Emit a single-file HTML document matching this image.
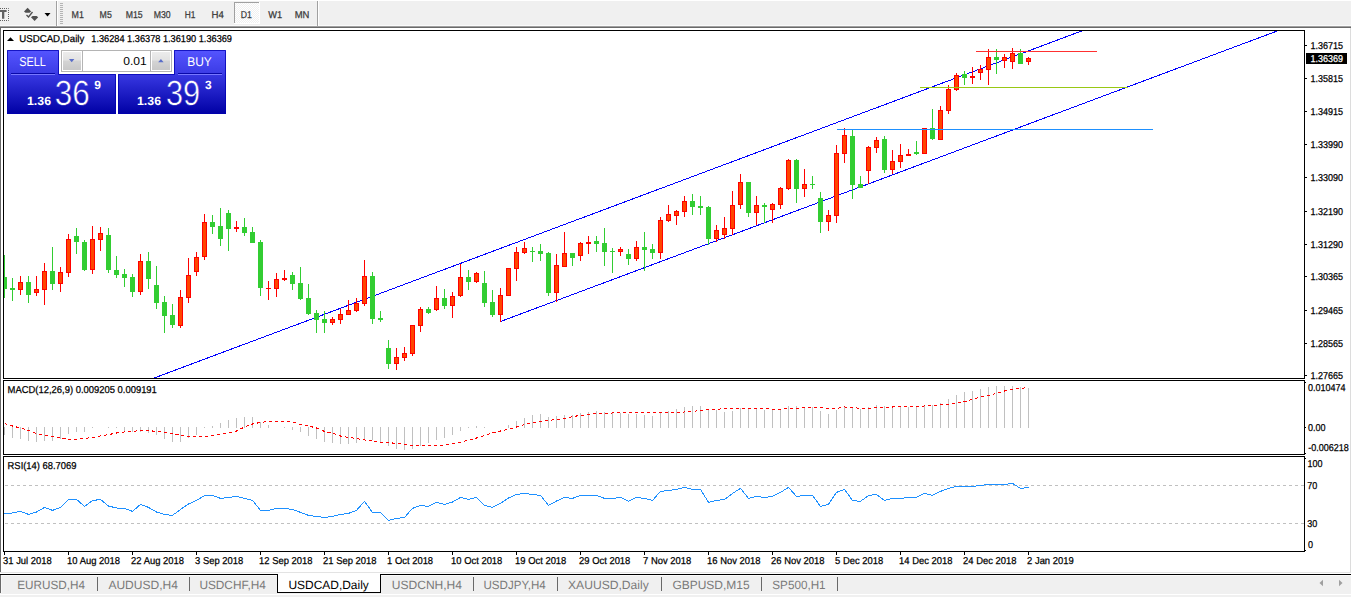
<!DOCTYPE html>
<html><head><meta charset="utf-8"><title>USDCAD,Daily</title>
<style>html,body{margin:0;padding:0;background:#fff;overflow:hidden}body{width:1351px;height:597px;font-family:"Liberation Sans",sans-serif}</style></head>
<body>
<svg width="1351" height="597" viewBox="0 0 1351 597" font-family="'Liberation Sans', sans-serif" text-rendering="geometricPrecision" style="display:block">
<defs><linearGradient id="gb" gradientUnits="userSpaceOnUse" x1="0" y1="50" x2="0" y2="114"><stop offset="0" stop-color="#5555ff"/><stop offset="0.36" stop-color="#3c3ce6"/><stop offset="0.4" stop-color="#3636e0"/><stop offset="1" stop-color="#0000a4"/></linearGradient><linearGradient id="gs" x1="0" y1="0" x2="0" y2="1"><stop offset="0" stop-color="#ececec"/><stop offset="0.45" stop-color="#e2e2e2"/><stop offset="0.5" stop-color="#d4d4d4"/><stop offset="1" stop-color="#c8c8c8"/></linearGradient><pattern id="dith" width="2" height="2" patternUnits="userSpaceOnUse"><rect width="2" height="2" fill="#f0f0f0"/><rect width="1" height="1" fill="#fff"/><rect x="1" y="1" width="1" height="1" fill="#fff"/></pattern></defs>
<rect x="0" y="0" width="1351" height="597" fill="#fff" />
<rect x="0" y="0" width="1351" height="26" fill="#f0f0f0" />
<rect x="0" y="0" width="1351" height="1" fill="#ffffff" />
<rect x="0" y="25" width="1351" height="1" fill="#fafafa" />
<rect x="0" y="26" width="1351" height="1" fill="#a0a0a0" />
<rect x="0" y="27" width="1351" height="1" fill="#696969" />
<rect x="1" y="28" width="1350" height="1" fill="#fff" />
<g fill="none" stroke="#606060" stroke-width="1" stroke-dasharray="1,1"><path d="M0 8.5H8.5V20.5H0"/></g>
<path d="M0 10h6.6v2H4.3V18.7H2V12H0z" fill="#606060"/>
<g fill="#505050"><path d="M24 11.6l3.6-3.8 3.6 3.8-1.6 1.2h-4z"/><path d="M31 17.2l3.6 3.8 3.6-3.8-1.6-1.2h-4z"/></g>
<path d="M26.5 15l2 2 4-5" fill="none" stroke="#505050" stroke-width="1.3"/>
<path d="M44.5 13h6l-3 3.5z" fill="#000"/>
<rect x="56" y="1" width="1" height="25" fill="#a0a0a0" />
<rect x="57" y="1" width="1" height="25" fill="#ffffff" />
<rect x="60" y="3" width="3" height="1" fill="#b4b4b4" />
<rect x="60" y="5" width="3" height="1" fill="#b4b4b4" />
<rect x="60" y="7" width="3" height="1" fill="#b4b4b4" />
<rect x="60" y="9" width="3" height="1" fill="#b4b4b4" />
<rect x="60" y="11" width="3" height="1" fill="#b4b4b4" />
<rect x="60" y="13" width="3" height="1" fill="#b4b4b4" />
<rect x="60" y="15" width="3" height="1" fill="#b4b4b4" />
<rect x="60" y="17" width="3" height="1" fill="#b4b4b4" />
<rect x="60" y="19" width="3" height="1" fill="#b4b4b4" />
<rect x="60" y="21" width="3" height="1" fill="#b4b4b4" />
<rect x="60" y="23" width="3" height="1" fill="#b4b4b4" />
<rect x="234" y="2" width="26" height="22" fill="url(#dith)" />
<rect x="234" y="2" width="26" height="1" fill="#a0a0a0" />
<rect x="234" y="2" width="1" height="22" fill="#a0a0a0" />
<rect x="234" y="23" width="26" height="1" fill="#fff" />
<rect x="259" y="2" width="1" height="22" fill="#fff" />
<rect x="317" y="1" width="1" height="25" fill="#a0a0a0" />
<rect x="318" y="1" width="1" height="25" fill="#ffffff" />
<text x="71.6" y="18" font-size="10" fill="#383838" stroke="#383838" stroke-width="0.25" textLength="12.3" lengthAdjust="spacingAndGlyphs">M1</text>
<text x="99.6" y="18" font-size="10" fill="#383838" stroke="#383838" stroke-width="0.25" textLength="12.2" lengthAdjust="spacingAndGlyphs">M5</text>
<text x="125.8" y="18" font-size="10" fill="#383838" stroke="#383838" stroke-width="0.25" textLength="16.9" lengthAdjust="spacingAndGlyphs">M15</text>
<text x="153.8" y="18" font-size="10" fill="#383838" stroke="#383838" stroke-width="0.25" textLength="16.9" lengthAdjust="spacingAndGlyphs">M30</text>
<text x="184.7" y="18" font-size="10" fill="#383838" stroke="#383838" stroke-width="0.25" textLength="10.7" lengthAdjust="spacingAndGlyphs">H1</text>
<text x="211.6" y="18" font-size="10" fill="#383838" stroke="#383838" stroke-width="0.25" textLength="12.3" lengthAdjust="spacingAndGlyphs">H4</text>
<text x="240.7" y="18" font-size="10" fill="#383838" stroke="#383838" stroke-width="0.25" textLength="11.1" lengthAdjust="spacingAndGlyphs">D1</text>
<text x="268.3" y="18" font-size="10" fill="#383838" stroke="#383838" stroke-width="0.25" textLength="13.9" lengthAdjust="spacingAndGlyphs">W1</text>
<text x="294.7" y="18" font-size="10" fill="#383838" stroke="#383838" stroke-width="0.25" textLength="14.7" lengthAdjust="spacingAndGlyphs">MN</text>
<rect x="0" y="27" width="1" height="546" fill="#696969" />
<rect x="1350" y="28" width="1" height="545" fill="#dcdcdc" />
<rect x="0" y="572" width="1351" height="1" fill="#e3e3e3" />
<clipPath id="cm"><rect x="4" y="31" width="1300" height="347"/></clipPath>
<g clip-path="url(#cm)">
<g stroke="#0000ff" stroke-width="1" shape-rendering="crispEdges">
<line x1="154.1" y1="378" x2="1081.6" y2="31"/>
<line x1="500.5" y1="321.5" x2="1277.2" y2="31"/>
</g>
<rect x="4" y="255" width="1" height="43" fill="#32cd32" />
<rect x="2" y="277" width="5" height="12" fill="#32cd32" />
<rect x="12" y="278" width="1" height="23" fill="#32cd32" />
<rect x="10" y="288" width="5" height="2" fill="#32cd32" />
<rect x="20" y="276" width="1" height="19" fill="#ff0000" />
<rect x="18" y="282" width="5" height="8" fill="#ff0000" />
<rect x="19" y="283" width="3" height="6" fill="#ff4500" />
<rect x="28" y="276" width="1" height="27" fill="#32cd32" />
<rect x="26" y="282" width="5" height="13" fill="#32cd32" />
<rect x="36" y="276" width="1" height="20" fill="#ff0000" />
<rect x="34" y="289" width="5" height="4" fill="#ff0000" />
<rect x="35" y="290" width="3" height="2" fill="#ff4500" />
<rect x="44" y="263" width="1" height="42" fill="#ff0000" />
<rect x="42" y="271" width="5" height="19" fill="#ff0000" />
<rect x="43" y="272" width="3" height="17" fill="#ff4500" />
<rect x="52" y="247" width="1" height="43" fill="#32cd32" />
<rect x="50" y="271" width="5" height="13" fill="#32cd32" />
<rect x="60" y="267" width="1" height="25" fill="#ff0000" />
<rect x="58" y="272" width="5" height="12" fill="#ff0000" />
<rect x="59" y="273" width="3" height="10" fill="#ff4500" />
<rect x="68" y="234" width="1" height="43" fill="#ff0000" />
<rect x="66" y="239" width="5" height="34" fill="#ff0000" />
<rect x="67" y="240" width="3" height="32" fill="#ff4500" />
<rect x="76" y="228" width="1" height="26" fill="#32cd32" />
<rect x="74" y="236" width="5" height="6" fill="#32cd32" />
<rect x="84" y="240" width="1" height="31" fill="#32cd32" />
<rect x="82" y="242" width="5" height="28" fill="#32cd32" />
<rect x="92" y="226" width="1" height="48" fill="#ff0000" />
<rect x="90" y="239" width="5" height="31" fill="#ff0000" />
<rect x="91" y="240" width="3" height="29" fill="#ff4500" />
<rect x="100" y="227" width="1" height="24" fill="#ff0000" />
<rect x="98" y="233" width="5" height="7" fill="#ff0000" />
<rect x="99" y="234" width="3" height="5" fill="#ff4500" />
<rect x="108" y="228" width="1" height="45" fill="#32cd32" />
<rect x="106" y="235" width="5" height="35" fill="#32cd32" />
<rect x="116" y="256" width="1" height="22" fill="#32cd32" />
<rect x="114" y="270" width="5" height="5" fill="#32cd32" />
<rect x="124" y="269" width="1" height="18" fill="#32cd32" />
<rect x="122" y="274" width="5" height="4" fill="#32cd32" />
<rect x="132" y="274" width="1" height="23" fill="#32cd32" />
<rect x="130" y="277" width="5" height="15" fill="#32cd32" />
<rect x="140" y="254" width="1" height="41" fill="#ff0000" />
<rect x="138" y="261" width="5" height="31" fill="#ff0000" />
<rect x="139" y="262" width="3" height="29" fill="#ff4500" />
<rect x="148" y="252" width="1" height="37" fill="#32cd32" />
<rect x="146" y="261" width="5" height="18" fill="#32cd32" />
<rect x="156" y="266" width="1" height="43" fill="#32cd32" />
<rect x="154" y="285" width="5" height="18" fill="#32cd32" />
<rect x="164" y="296" width="1" height="37" fill="#32cd32" />
<rect x="162" y="302" width="5" height="14" fill="#32cd32" />
<rect x="172" y="304" width="1" height="24" fill="#32cd32" />
<rect x="170" y="315" width="5" height="10" fill="#32cd32" />
<rect x="180" y="290" width="1" height="38" fill="#ff0000" />
<rect x="178" y="297" width="5" height="29" fill="#ff0000" />
<rect x="179" y="298" width="3" height="27" fill="#ff4500" />
<rect x="188" y="258" width="1" height="45" fill="#ff0000" />
<rect x="186" y="275" width="5" height="23" fill="#ff0000" />
<rect x="187" y="276" width="3" height="21" fill="#ff4500" />
<rect x="196" y="252" width="1" height="24" fill="#ff0000" />
<rect x="194" y="257" width="5" height="15" fill="#ff0000" />
<rect x="195" y="258" width="3" height="13" fill="#ff4500" />
<rect x="204" y="214" width="1" height="46" fill="#ff0000" />
<rect x="202" y="222" width="5" height="35" fill="#ff0000" />
<rect x="203" y="223" width="3" height="33" fill="#ff4500" />
<rect x="212" y="215" width="1" height="19" fill="#32cd32" />
<rect x="210" y="222" width="5" height="5" fill="#32cd32" />
<rect x="220" y="208" width="1" height="38" fill="#32cd32" />
<rect x="218" y="226" width="5" height="13" fill="#32cd32" />
<rect x="228" y="210" width="1" height="41" fill="#32cd32" />
<rect x="226" y="213" width="5" height="16" fill="#32cd32" />
<rect x="236" y="221" width="1" height="11" fill="#ff0000" />
<rect x="234" y="227" width="5" height="2" fill="#ff0000" />
<rect x="244" y="218" width="1" height="18" fill="#32cd32" />
<rect x="242" y="227" width="5" height="6" fill="#32cd32" />
<rect x="252" y="227" width="1" height="16" fill="#32cd32" />
<rect x="250" y="232" width="5" height="11" fill="#32cd32" />
<rect x="260" y="240" width="1" height="56" fill="#32cd32" />
<rect x="258" y="242" width="5" height="46" fill="#32cd32" />
<rect x="268" y="281" width="1" height="19" fill="#ff0000" />
<rect x="266" y="288" width="5" height="1" fill="#ff0000" />
<rect x="276" y="273" width="1" height="24" fill="#ff0000" />
<rect x="274" y="279" width="5" height="10" fill="#ff0000" />
<rect x="275" y="280" width="3" height="8" fill="#ff4500" />
<rect x="284" y="270" width="1" height="11" fill="#ff0000" />
<rect x="282" y="278" width="5" height="2" fill="#ff0000" />
<rect x="292" y="272" width="1" height="18" fill="#32cd32" />
<rect x="290" y="275" width="5" height="9" fill="#32cd32" />
<rect x="300" y="267" width="1" height="33" fill="#32cd32" />
<rect x="298" y="283" width="5" height="16" fill="#32cd32" />
<rect x="308" y="284" width="1" height="31" fill="#32cd32" />
<rect x="306" y="298" width="5" height="16" fill="#32cd32" />
<rect x="316" y="310" width="1" height="23" fill="#32cd32" />
<rect x="314" y="313" width="5" height="7" fill="#32cd32" />
<rect x="324" y="311" width="1" height="22" fill="#32cd32" />
<rect x="322" y="319" width="5" height="4" fill="#32cd32" />
<rect x="332" y="317" width="1" height="8" fill="#ff0000" />
<rect x="330" y="319" width="5" height="4" fill="#ff0000" />
<rect x="331" y="320" width="3" height="2" fill="#ff4500" />
<rect x="340" y="309" width="1" height="15" fill="#ff0000" />
<rect x="338" y="314" width="5" height="6" fill="#ff0000" />
<rect x="339" y="315" width="3" height="4" fill="#ff4500" />
<rect x="348" y="300" width="1" height="15" fill="#ff0000" />
<rect x="346" y="310" width="5" height="5" fill="#ff0000" />
<rect x="347" y="311" width="3" height="3" fill="#ff4500" />
<rect x="356" y="298" width="1" height="14" fill="#ff0000" />
<rect x="354" y="303" width="5" height="8" fill="#ff0000" />
<rect x="355" y="304" width="3" height="6" fill="#ff4500" />
<rect x="364" y="260" width="1" height="46" fill="#ff0000" />
<rect x="362" y="276" width="5" height="28" fill="#ff0000" />
<rect x="363" y="277" width="3" height="26" fill="#ff4500" />
<rect x="372" y="272" width="1" height="52" fill="#32cd32" />
<rect x="370" y="276" width="5" height="43" fill="#32cd32" />
<rect x="380" y="311" width="1" height="11" fill="#32cd32" />
<rect x="378" y="318" width="5" height="2" fill="#32cd32" />
<rect x="388" y="340" width="1" height="29" fill="#32cd32" />
<rect x="386" y="348" width="5" height="16" fill="#32cd32" />
<rect x="396" y="348" width="1" height="22" fill="#ff0000" />
<rect x="394" y="357" width="5" height="7" fill="#ff0000" />
<rect x="395" y="358" width="3" height="5" fill="#ff4500" />
<rect x="404" y="347" width="1" height="14" fill="#ff0000" />
<rect x="402" y="353" width="5" height="5" fill="#ff0000" />
<rect x="403" y="354" width="3" height="3" fill="#ff4500" />
<rect x="412" y="325" width="1" height="31" fill="#ff0000" />
<rect x="410" y="325" width="5" height="29" fill="#ff0000" />
<rect x="411" y="326" width="3" height="27" fill="#ff4500" />
<rect x="420" y="307" width="1" height="25" fill="#ff0000" />
<rect x="418" y="309" width="5" height="17" fill="#ff0000" />
<rect x="419" y="310" width="3" height="15" fill="#ff4500" />
<rect x="428" y="307" width="1" height="7" fill="#32cd32" />
<rect x="426" y="309" width="5" height="4" fill="#32cd32" />
<rect x="436" y="286" width="1" height="25" fill="#ff0000" />
<rect x="434" y="298" width="5" height="12" fill="#ff0000" />
<rect x="435" y="299" width="3" height="10" fill="#ff4500" />
<rect x="444" y="289" width="1" height="20" fill="#32cd32" />
<rect x="442" y="298" width="5" height="8" fill="#32cd32" />
<rect x="452" y="292" width="1" height="26" fill="#ff0000" />
<rect x="450" y="296" width="5" height="10" fill="#ff0000" />
<rect x="451" y="297" width="3" height="8" fill="#ff4500" />
<rect x="460" y="264" width="1" height="33" fill="#ff0000" />
<rect x="458" y="277" width="5" height="19" fill="#ff0000" />
<rect x="459" y="278" width="3" height="17" fill="#ff4500" />
<rect x="468" y="270" width="1" height="20" fill="#32cd32" />
<rect x="466" y="277" width="5" height="5" fill="#32cd32" />
<rect x="476" y="272" width="1" height="11" fill="#ff0000" />
<rect x="474" y="273" width="5" height="9" fill="#ff0000" />
<rect x="475" y="274" width="3" height="7" fill="#ff4500" />
<rect x="484" y="271" width="1" height="36" fill="#32cd32" />
<rect x="482" y="283" width="5" height="20" fill="#32cd32" />
<rect x="492" y="290" width="1" height="27" fill="#32cd32" />
<rect x="490" y="302" width="5" height="13" fill="#32cd32" />
<rect x="500" y="288" width="1" height="34" fill="#ff0000" />
<rect x="498" y="295" width="5" height="20" fill="#ff0000" />
<rect x="499" y="296" width="3" height="18" fill="#ff4500" />
<rect x="508" y="268" width="1" height="28" fill="#ff0000" />
<rect x="506" y="268" width="5" height="28" fill="#ff0000" />
<rect x="507" y="269" width="3" height="26" fill="#ff4500" />
<rect x="516" y="247" width="1" height="34" fill="#ff0000" />
<rect x="514" y="252" width="5" height="17" fill="#ff0000" />
<rect x="515" y="253" width="3" height="15" fill="#ff4500" />
<rect x="524" y="242" width="1" height="12" fill="#ff0000" />
<rect x="522" y="248" width="5" height="5" fill="#ff0000" />
<rect x="523" y="249" width="3" height="3" fill="#ff4500" />
<rect x="532" y="247" width="1" height="15" fill="#32cd32" />
<rect x="530" y="251" width="5" height="1" fill="#32cd32" />
<rect x="540" y="244" width="1" height="17" fill="#32cd32" />
<rect x="538" y="251" width="5" height="3" fill="#32cd32" />
<rect x="548" y="252" width="1" height="44" fill="#32cd32" />
<rect x="546" y="253" width="5" height="40" fill="#32cd32" />
<rect x="556" y="254" width="1" height="48" fill="#ff0000" />
<rect x="554" y="265" width="5" height="28" fill="#ff0000" />
<rect x="555" y="266" width="3" height="26" fill="#ff4500" />
<rect x="564" y="232" width="1" height="35" fill="#ff0000" />
<rect x="562" y="253" width="5" height="14" fill="#ff0000" />
<rect x="563" y="254" width="3" height="12" fill="#ff4500" />
<rect x="572" y="253" width="1" height="13" fill="#32cd32" />
<rect x="570" y="253" width="5" height="5" fill="#32cd32" />
<rect x="580" y="242" width="1" height="19" fill="#ff0000" />
<rect x="578" y="243" width="5" height="13" fill="#ff0000" />
<rect x="579" y="244" width="3" height="11" fill="#ff4500" />
<rect x="588" y="236" width="1" height="18" fill="#ff0000" />
<rect x="586" y="242" width="5" height="2" fill="#ff0000" />
<rect x="596" y="236" width="1" height="16" fill="#32cd32" />
<rect x="594" y="241" width="5" height="3" fill="#32cd32" />
<rect x="604" y="228" width="1" height="38" fill="#32cd32" />
<rect x="602" y="243" width="5" height="9" fill="#32cd32" />
<rect x="612" y="248" width="1" height="25" fill="#32cd32" />
<rect x="610" y="251" width="5" height="1" fill="#32cd32" />
<rect x="620" y="247" width="1" height="9" fill="#ff0000" />
<rect x="618" y="249" width="5" height="3" fill="#ff0000" />
<rect x="619" y="250" width="3" height="1" fill="#ff4500" />
<rect x="628" y="249" width="1" height="16" fill="#32cd32" />
<rect x="626" y="254" width="5" height="5" fill="#32cd32" />
<rect x="636" y="241" width="1" height="20" fill="#ff0000" />
<rect x="634" y="247" width="5" height="12" fill="#ff0000" />
<rect x="635" y="248" width="3" height="10" fill="#ff4500" />
<rect x="644" y="232" width="1" height="39" fill="#32cd32" />
<rect x="642" y="247" width="5" height="3" fill="#32cd32" />
<rect x="652" y="244" width="1" height="15" fill="#32cd32" />
<rect x="650" y="249" width="5" height="4" fill="#32cd32" />
<rect x="660" y="217" width="1" height="42" fill="#ff0000" />
<rect x="658" y="220" width="5" height="33" fill="#ff0000" />
<rect x="659" y="221" width="3" height="31" fill="#ff4500" />
<rect x="668" y="205" width="1" height="17" fill="#ff0000" />
<rect x="666" y="214" width="5" height="7" fill="#ff0000" />
<rect x="667" y="215" width="3" height="5" fill="#ff4500" />
<rect x="676" y="210" width="1" height="15" fill="#ff0000" />
<rect x="674" y="211" width="5" height="5" fill="#ff0000" />
<rect x="675" y="212" width="3" height="3" fill="#ff4500" />
<rect x="684" y="196" width="1" height="21" fill="#ff0000" />
<rect x="682" y="201" width="5" height="11" fill="#ff0000" />
<rect x="683" y="202" width="3" height="9" fill="#ff4500" />
<rect x="692" y="194" width="1" height="21" fill="#32cd32" />
<rect x="690" y="201" width="5" height="6" fill="#32cd32" />
<rect x="700" y="196" width="1" height="19" fill="#32cd32" />
<rect x="698" y="206" width="5" height="2" fill="#32cd32" />
<rect x="708" y="206" width="1" height="39" fill="#32cd32" />
<rect x="706" y="207" width="5" height="32" fill="#32cd32" />
<rect x="716" y="225" width="1" height="17" fill="#ff0000" />
<rect x="714" y="230" width="5" height="9" fill="#ff0000" />
<rect x="715" y="231" width="3" height="7" fill="#ff4500" />
<rect x="724" y="217" width="1" height="22" fill="#ff0000" />
<rect x="722" y="228" width="5" height="7" fill="#ff0000" />
<rect x="723" y="229" width="3" height="5" fill="#ff4500" />
<rect x="732" y="191" width="1" height="44" fill="#ff0000" />
<rect x="730" y="205" width="5" height="24" fill="#ff0000" />
<rect x="731" y="206" width="3" height="22" fill="#ff4500" />
<rect x="740" y="174" width="1" height="35" fill="#ff0000" />
<rect x="738" y="182" width="5" height="23" fill="#ff0000" />
<rect x="739" y="183" width="3" height="21" fill="#ff4500" />
<rect x="748" y="182" width="1" height="35" fill="#32cd32" />
<rect x="746" y="182" width="5" height="31" fill="#32cd32" />
<rect x="756" y="196" width="1" height="29" fill="#ff0000" />
<rect x="754" y="205" width="5" height="8" fill="#ff0000" />
<rect x="755" y="206" width="3" height="6" fill="#ff4500" />
<rect x="764" y="203" width="1" height="20" fill="#32cd32" />
<rect x="762" y="205" width="5" height="2" fill="#32cd32" />
<rect x="772" y="203" width="1" height="20" fill="#ff0000" />
<rect x="770" y="204" width="5" height="6" fill="#ff0000" />
<rect x="771" y="205" width="3" height="4" fill="#ff4500" />
<rect x="780" y="187" width="1" height="22" fill="#ff0000" />
<rect x="778" y="188" width="5" height="17" fill="#ff0000" />
<rect x="779" y="189" width="3" height="15" fill="#ff4500" />
<rect x="788" y="159" width="1" height="31" fill="#ff0000" />
<rect x="786" y="160" width="5" height="29" fill="#ff0000" />
<rect x="787" y="161" width="3" height="27" fill="#ff4500" />
<rect x="796" y="159" width="1" height="44" fill="#32cd32" />
<rect x="794" y="160" width="5" height="29" fill="#32cd32" />
<rect x="804" y="169" width="1" height="28" fill="#ff0000" />
<rect x="802" y="184" width="5" height="5" fill="#ff0000" />
<rect x="803" y="185" width="3" height="3" fill="#ff4500" />
<rect x="812" y="176" width="1" height="13" fill="#32cd32" />
<rect x="810" y="184" width="5" height="1" fill="#32cd32" />
<rect x="820" y="192" width="1" height="41" fill="#32cd32" />
<rect x="818" y="198" width="5" height="24" fill="#32cd32" />
<rect x="828" y="210" width="1" height="21" fill="#ff0000" />
<rect x="826" y="215" width="5" height="7" fill="#ff0000" />
<rect x="827" y="216" width="3" height="5" fill="#ff4500" />
<rect x="836" y="145" width="1" height="78" fill="#ff0000" />
<rect x="834" y="153" width="5" height="63" fill="#ff0000" />
<rect x="835" y="154" width="3" height="61" fill="#ff4500" />
<rect x="844" y="128" width="1" height="35" fill="#ff0000" />
<rect x="842" y="135" width="5" height="19" fill="#ff0000" />
<rect x="843" y="136" width="3" height="17" fill="#ff4500" />
<rect x="852" y="130" width="1" height="69" fill="#32cd32" />
<rect x="850" y="136" width="5" height="49" fill="#32cd32" />
<rect x="860" y="176" width="1" height="12" fill="#32cd32" />
<rect x="858" y="184" width="5" height="4" fill="#32cd32" />
<rect x="868" y="146" width="1" height="38" fill="#ff0000" />
<rect x="866" y="147" width="5" height="24" fill="#ff0000" />
<rect x="867" y="148" width="3" height="22" fill="#ff4500" />
<rect x="876" y="137" width="1" height="16" fill="#ff0000" />
<rect x="874" y="140" width="5" height="8" fill="#ff0000" />
<rect x="875" y="141" width="3" height="6" fill="#ff4500" />
<rect x="884" y="136" width="1" height="37" fill="#32cd32" />
<rect x="882" y="139" width="5" height="31" fill="#32cd32" />
<rect x="892" y="150" width="1" height="24" fill="#ff0000" />
<rect x="890" y="161" width="5" height="9" fill="#ff0000" />
<rect x="891" y="162" width="3" height="7" fill="#ff4500" />
<rect x="900" y="144" width="1" height="24" fill="#ff0000" />
<rect x="898" y="155" width="5" height="7" fill="#ff0000" />
<rect x="899" y="156" width="3" height="5" fill="#ff4500" />
<rect x="908" y="149" width="1" height="7" fill="#ff0000" />
<rect x="906" y="154" width="5" height="2" fill="#ff0000" />
<rect x="916" y="141" width="1" height="14" fill="#32cd32" />
<rect x="914" y="152" width="5" height="2" fill="#32cd32" />
<rect x="924" y="128" width="1" height="26" fill="#ff0000" />
<rect x="922" y="128" width="5" height="26" fill="#ff0000" />
<rect x="923" y="129" width="3" height="24" fill="#ff4500" />
<rect x="932" y="109" width="1" height="31" fill="#32cd32" />
<rect x="930" y="128" width="5" height="11" fill="#32cd32" />
<rect x="940" y="106" width="1" height="34" fill="#ff0000" />
<rect x="938" y="110" width="5" height="30" fill="#ff0000" />
<rect x="939" y="111" width="3" height="28" fill="#ff4500" />
<rect x="948" y="85" width="1" height="29" fill="#ff0000" />
<rect x="946" y="89" width="5" height="22" fill="#ff0000" />
<rect x="947" y="90" width="3" height="20" fill="#ff4500" />
<rect x="956" y="73" width="1" height="18" fill="#ff0000" />
<rect x="954" y="75" width="5" height="15" fill="#ff0000" />
<rect x="955" y="76" width="3" height="13" fill="#ff4500" />
<rect x="964" y="71" width="1" height="14" fill="#32cd32" />
<rect x="962" y="74" width="5" height="4" fill="#32cd32" />
<rect x="972" y="67" width="1" height="17" fill="#ff0000" />
<rect x="970" y="76" width="5" height="2" fill="#ff0000" />
<rect x="980" y="65" width="1" height="15" fill="#ff0000" />
<rect x="978" y="69" width="5" height="4" fill="#ff0000" />
<rect x="979" y="70" width="3" height="2" fill="#ff4500" />
<rect x="988" y="49" width="1" height="36" fill="#ff0000" />
<rect x="986" y="57" width="5" height="13" fill="#ff0000" />
<rect x="987" y="58" width="3" height="11" fill="#ff4500" />
<rect x="996" y="49" width="1" height="25" fill="#32cd32" />
<rect x="994" y="57" width="5" height="3" fill="#32cd32" />
<rect x="1004" y="54" width="1" height="14" fill="#ff0000" />
<rect x="1002" y="57" width="5" height="4" fill="#ff0000" />
<rect x="1003" y="58" width="3" height="2" fill="#ff4500" />
<rect x="1012" y="48" width="1" height="21" fill="#ff0000" />
<rect x="1010" y="53" width="5" height="9" fill="#ff0000" />
<rect x="1011" y="54" width="3" height="7" fill="#ff4500" />
<rect x="1020" y="49" width="1" height="15" fill="#32cd32" />
<rect x="1018" y="53" width="5" height="11" fill="#32cd32" />
<rect x="1028" y="57" width="1" height="8" fill="#ff0000" />
<rect x="1026" y="58" width="5" height="4" fill="#ff0000" />
<rect x="1027" y="59" width="3" height="2" fill="#ff4500" />
<rect x="976" y="51" width="121" height="1" fill="#ff3030" />
<rect x="920" y="87" width="208" height="1" fill="#98c814" />
<rect x="837" y="129" width="316" height="1" fill="#1e90ff" />
</g>
<rect x="3" y="30" width="1302" height="1" fill="#000" />
<rect x="3" y="378" width="1302" height="1" fill="#000" />
<rect x="3" y="30" width="1" height="349" fill="#000" />
<rect x="1304" y="30" width="1" height="349" fill="#000" />
<rect x="3" y="380" width="1302" height="1" fill="#000" />
<rect x="3" y="454" width="1302" height="1" fill="#000" />
<rect x="3" y="380" width="1" height="75" fill="#000" />
<rect x="1304" y="380" width="1" height="75" fill="#000" />
<rect x="4" y="427" width="1" height="8" fill="#c0c0c0" />
<rect x="12" y="427" width="1" height="11" fill="#c0c0c0" />
<rect x="20" y="427" width="1" height="12" fill="#c0c0c0" />
<rect x="28" y="427" width="1" height="14" fill="#c0c0c0" />
<rect x="36" y="427" width="1" height="15" fill="#c0c0c0" />
<rect x="44" y="427" width="1" height="14" fill="#c0c0c0" />
<rect x="52" y="427" width="1" height="14" fill="#c0c0c0" />
<rect x="60" y="427" width="1" height="12" fill="#c0c0c0" />
<rect x="68" y="427" width="1" height="7" fill="#c0c0c0" />
<rect x="76" y="427" width="1" height="5" fill="#c0c0c0" />
<rect x="84" y="427" width="1" height="5" fill="#c0c0c0" />
<rect x="92" y="427" width="1" height="1" fill="#c0c0c0" />
<rect x="108" y="427" width="1" height="1" fill="#c0c0c0" />
<rect x="116" y="427" width="1" height="1" fill="#c0c0c0" />
<rect x="124" y="427" width="1" height="4" fill="#c0c0c0" />
<rect x="132" y="427" width="1" height="5" fill="#c0c0c0" />
<rect x="140" y="427" width="1" height="5" fill="#c0c0c0" />
<rect x="148" y="427" width="1" height="6" fill="#c0c0c0" />
<rect x="156" y="427" width="1" height="8" fill="#c0c0c0" />
<rect x="164" y="427" width="1" height="12" fill="#c0c0c0" />
<rect x="172" y="427" width="1" height="15" fill="#c0c0c0" />
<rect x="180" y="427" width="1" height="15" fill="#c0c0c0" />
<rect x="188" y="427" width="1" height="11" fill="#c0c0c0" />
<rect x="196" y="427" width="1" height="8" fill="#c0c0c0" />
<rect x="204" y="427" width="1" height="1" fill="#c0c0c0" />
<rect x="212" y="426" width="1" height="2" fill="#c0c0c0" />
<rect x="220" y="423" width="1" height="5" fill="#c0c0c0" />
<rect x="228" y="420" width="1" height="8" fill="#c0c0c0" />
<rect x="236" y="418" width="1" height="10" fill="#c0c0c0" />
<rect x="244" y="417" width="1" height="11" fill="#c0c0c0" />
<rect x="252" y="417" width="1" height="11" fill="#c0c0c0" />
<rect x="260" y="422" width="1" height="6" fill="#c0c0c0" />
<rect x="268" y="425" width="1" height="3" fill="#c0c0c0" />
<rect x="284" y="427" width="1" height="1" fill="#c0c0c0" />
<rect x="292" y="427" width="1" height="3" fill="#c0c0c0" />
<rect x="300" y="427" width="1" height="5" fill="#c0c0c0" />
<rect x="308" y="427" width="1" height="9" fill="#c0c0c0" />
<rect x="316" y="427" width="1" height="12" fill="#c0c0c0" />
<rect x="324" y="427" width="1" height="15" fill="#c0c0c0" />
<rect x="332" y="427" width="1" height="16" fill="#c0c0c0" />
<rect x="340" y="427" width="1" height="17" fill="#c0c0c0" />
<rect x="348" y="427" width="1" height="17" fill="#c0c0c0" />
<rect x="356" y="427" width="1" height="16" fill="#c0c0c0" />
<rect x="364" y="427" width="1" height="12" fill="#c0c0c0" />
<rect x="372" y="427" width="1" height="13" fill="#c0c0c0" />
<rect x="380" y="427" width="1" height="15" fill="#c0c0c0" />
<rect x="388" y="427" width="1" height="19" fill="#c0c0c0" />
<rect x="396" y="427" width="1" height="22" fill="#c0c0c0" />
<rect x="404" y="427" width="1" height="23" fill="#c0c0c0" />
<rect x="412" y="427" width="1" height="22" fill="#c0c0c0" />
<rect x="420" y="427" width="1" height="19" fill="#c0c0c0" />
<rect x="428" y="427" width="1" height="16" fill="#c0c0c0" />
<rect x="436" y="427" width="1" height="13" fill="#c0c0c0" />
<rect x="444" y="427" width="1" height="11" fill="#c0c0c0" />
<rect x="452" y="427" width="1" height="8" fill="#c0c0c0" />
<rect x="460" y="427" width="1" height="4" fill="#c0c0c0" />
<rect x="468" y="427" width="1" height="1" fill="#c0c0c0" />
<rect x="476" y="426" width="1" height="2" fill="#c0c0c0" />
<rect x="484" y="427" width="1" height="1" fill="#c0c0c0" />
<rect x="508" y="425" width="1" height="3" fill="#c0c0c0" />
<rect x="516" y="421" width="1" height="7" fill="#c0c0c0" />
<rect x="524" y="418" width="1" height="10" fill="#c0c0c0" />
<rect x="532" y="415" width="1" height="13" fill="#c0c0c0" />
<rect x="540" y="414" width="1" height="14" fill="#c0c0c0" />
<rect x="548" y="417" width="1" height="11" fill="#c0c0c0" />
<rect x="556" y="416" width="1" height="12" fill="#c0c0c0" />
<rect x="564" y="415" width="1" height="13" fill="#c0c0c0" />
<rect x="572" y="415" width="1" height="13" fill="#c0c0c0" />
<rect x="580" y="413" width="1" height="15" fill="#c0c0c0" />
<rect x="588" y="412" width="1" height="16" fill="#c0c0c0" />
<rect x="596" y="411" width="1" height="17" fill="#c0c0c0" />
<rect x="604" y="412" width="1" height="16" fill="#c0c0c0" />
<rect x="612" y="413" width="1" height="15" fill="#c0c0c0" />
<rect x="620" y="413" width="1" height="15" fill="#c0c0c0" />
<rect x="628" y="414" width="1" height="14" fill="#c0c0c0" />
<rect x="636" y="414" width="1" height="14" fill="#c0c0c0" />
<rect x="644" y="415" width="1" height="13" fill="#c0c0c0" />
<rect x="652" y="416" width="1" height="12" fill="#c0c0c0" />
<rect x="660" y="413" width="1" height="15" fill="#c0c0c0" />
<rect x="668" y="411" width="1" height="17" fill="#c0c0c0" />
<rect x="676" y="409" width="1" height="19" fill="#c0c0c0" />
<rect x="684" y="407" width="1" height="21" fill="#c0c0c0" />
<rect x="692" y="406" width="1" height="22" fill="#c0c0c0" />
<rect x="700" y="406" width="1" height="22" fill="#c0c0c0" />
<rect x="708" y="409" width="1" height="19" fill="#c0c0c0" />
<rect x="716" y="410" width="1" height="18" fill="#c0c0c0" />
<rect x="724" y="412" width="1" height="16" fill="#c0c0c0" />
<rect x="732" y="411" width="1" height="17" fill="#c0c0c0" />
<rect x="740" y="408" width="1" height="20" fill="#c0c0c0" />
<rect x="748" y="408" width="1" height="20" fill="#c0c0c0" />
<rect x="756" y="409" width="1" height="19" fill="#c0c0c0" />
<rect x="764" y="410" width="1" height="18" fill="#c0c0c0" />
<rect x="772" y="410" width="1" height="18" fill="#c0c0c0" />
<rect x="780" y="409" width="1" height="19" fill="#c0c0c0" />
<rect x="788" y="406" width="1" height="22" fill="#c0c0c0" />
<rect x="796" y="406" width="1" height="22" fill="#c0c0c0" />
<rect x="804" y="407" width="1" height="21" fill="#c0c0c0" />
<rect x="812" y="407" width="1" height="21" fill="#c0c0c0" />
<rect x="820" y="411" width="1" height="17" fill="#c0c0c0" />
<rect x="828" y="414" width="1" height="14" fill="#c0c0c0" />
<rect x="836" y="410" width="1" height="18" fill="#c0c0c0" />
<rect x="844" y="406" width="1" height="22" fill="#c0c0c0" />
<rect x="852" y="407" width="1" height="21" fill="#c0c0c0" />
<rect x="860" y="409" width="1" height="19" fill="#c0c0c0" />
<rect x="868" y="407" width="1" height="21" fill="#c0c0c0" />
<rect x="876" y="405" width="1" height="23" fill="#c0c0c0" />
<rect x="884" y="406" width="1" height="22" fill="#c0c0c0" />
<rect x="892" y="407" width="1" height="21" fill="#c0c0c0" />
<rect x="900" y="406" width="1" height="22" fill="#c0c0c0" />
<rect x="908" y="407" width="1" height="21" fill="#c0c0c0" />
<rect x="916" y="407" width="1" height="21" fill="#c0c0c0" />
<rect x="924" y="405" width="1" height="23" fill="#c0c0c0" />
<rect x="932" y="405" width="1" height="23" fill="#c0c0c0" />
<rect x="940" y="403" width="1" height="25" fill="#c0c0c0" />
<rect x="948" y="399" width="1" height="29" fill="#c0c0c0" />
<rect x="956" y="395" width="1" height="33" fill="#c0c0c0" />
<rect x="964" y="392" width="1" height="36" fill="#c0c0c0" />
<rect x="972" y="391" width="1" height="37" fill="#c0c0c0" />
<rect x="980" y="389" width="1" height="39" fill="#c0c0c0" />
<rect x="988" y="387" width="1" height="41" fill="#c0c0c0" />
<rect x="996" y="386" width="1" height="42" fill="#c0c0c0" />
<rect x="1004" y="386" width="1" height="42" fill="#c0c0c0" />
<rect x="1012" y="386" width="1" height="42" fill="#c0c0c0" />
<rect x="1020" y="387" width="1" height="41" fill="#c0c0c0" />
<rect x="1028" y="388" width="1" height="40" fill="#c0c0c0" />
<polyline points="4.5,423.6 12.5,426.0 20.5,428.0 28.5,430.6 36.5,433.4 44.5,435.4 52.5,436.6 60.5,438.0 68.5,439.4 76.5,439.4 84.5,438.6 92.5,437.4 100.5,436.0 108.5,434.6 116.5,433.0 124.5,432.0 132.5,431.4 140.5,430.6 148.5,430.6 156.5,431.4 164.5,432.6 172.5,433.4 180.5,435.0 188.5,436.4 196.5,437.0 204.5,436.4 212.5,435.4 220.5,434.0 228.5,433.0 236.5,431.0 244.5,427.0 252.5,424.0 260.5,422.4 268.5,421.4 276.5,421.4 284.5,421.4 292.5,422.0 300.5,424.4 308.5,426.0 316.5,428.0 324.5,431.4 332.5,433.0 340.5,436.0 348.5,437.4 356.5,438.6 364.5,440.0 372.5,441.0 380.5,442.4 388.5,442.6 396.5,443.4 404.5,444.6 412.5,445.4 420.5,445.4 428.5,445.4 436.5,445.4 444.5,445.0 452.5,444.0 460.5,442.6 468.5,440.0 476.5,438.0 484.5,435.4 492.5,433.0 500.5,431.0 508.5,429.4 516.5,427.0 524.5,424.4 532.5,423.0 540.5,421.4 548.5,420.6 556.5,419.4 564.5,418.4 572.5,416.6 580.5,415.4 588.5,414.4 596.5,413.4 604.5,413.4 612.5,413.0 620.5,412.4 628.5,412.4 636.5,412.4 644.5,412.4 652.5,412.4 660.5,412.4 668.5,412.4 676.5,412.4 684.5,412.0 692.5,411.4 700.5,410.4 708.5,409.6 716.5,409.4 724.5,408.6 732.5,408.6 740.5,408.6 748.5,408.6 756.5,408.6 764.5,408.6 772.5,409.4 780.5,409.4 788.5,408.6 796.5,408.4 804.5,407.4 812.5,407.4 820.5,407.4 828.5,408.4 836.5,408.4 844.5,407.0 852.5,407.4 860.5,408.6 868.5,408.4 876.5,407.4 884.5,407.0 892.5,407.0 900.5,406.4 908.5,406.4 916.5,406.4 924.5,406.0 932.5,405.4 940.5,405.0 948.5,404.4 956.5,403.0 964.5,401.6 972.5,399.4 980.5,397.0 988.5,395.4 996.5,393.4 1004.5,391.0 1012.5,389.4 1020.5,388.4 1028.5,387.6" fill="none" stroke="#ff0000" stroke-width="1" stroke-dasharray="3,3" shape-rendering="crispEdges"/>
<rect x="3" y="456" width="1302" height="1" fill="#000" />
<rect x="3" y="551" width="1302" height="1" fill="#000" />
<rect x="3" y="456" width="1" height="96" fill="#000" />
<rect x="1304" y="456" width="1" height="96" fill="#000" />
<g stroke="#c0c0c0" stroke-width="1" stroke-dasharray="3,3" shape-rendering="crispEdges"><line x1="5" y1="485.5" x2="1304" y2="485.5"/><line x1="5" y1="523.5" x2="1304" y2="523.5"/></g>
<polyline points="4.5,513.4 12.5,513.0 20.5,511.4 28.5,514.4 36.5,512.0 44.5,507.4 52.5,510.4 60.5,507.4 68.5,499.4 76.5,499.4 84.5,506.4 92.5,500.6 100.5,499.4 108.5,506.0 116.5,508.0 124.5,508.4 132.5,511.4 140.5,504.4 148.5,507.4 156.5,512.0 164.5,514.4 172.5,515.4 180.5,509.4 188.5,504.0 196.5,500.4 204.5,495.6 212.5,495.4 220.5,498.4 228.5,497.4 236.5,496.4 244.5,498.4 252.5,500.4 260.5,510.4 268.5,510.4 276.5,508.4 284.5,508.4 292.5,509.4 300.5,512.4 308.5,515.4 316.5,516.4 324.5,517.4 332.5,516.4 340.5,514.4 348.5,513.4 356.5,510.4 364.5,501.4 372.5,512.4 380.5,512.4 388.5,520.4 396.5,518.4 404.5,517.4 412.5,508.4 420.5,505.4 428.5,506.4 436.5,502.4 444.5,504.4 452.5,502.0 460.5,497.4 468.5,499.4 476.5,497.4 484.5,505.4 492.5,507.4 500.5,503.4 508.5,498.0 516.5,494.4 524.5,493.4 532.5,494.4 540.5,495.4 548.5,505.4 556.5,501.0 564.5,497.4 572.5,498.4 580.5,495.4 588.5,495.4 596.5,495.4 604.5,498.4 612.5,498.4 620.5,497.4 628.5,501.4 636.5,497.4 644.5,498.4 652.5,500.4 660.5,491.4 668.5,490.4 676.5,489.4 684.5,487.4 692.5,489.4 700.5,489.4 708.5,502.4 716.5,500.4 724.5,499.4 732.5,493.4 740.5,488.4 748.5,498.4 756.5,496.4 764.5,497.4 772.5,496.4 780.5,492.4 788.5,487.4 796.5,496.4 804.5,495.4 812.5,495.4 820.5,506.4 828.5,504.4 836.5,492.4 844.5,489.4 852.5,500.4 860.5,501.4 868.5,495.4 876.5,494.4 884.5,500.4 892.5,498.4 900.5,498.4 908.5,497.4 916.5,497.4 924.5,493.4 932.5,495.4 940.5,491.4 948.5,488.4 956.5,486.4 964.5,486.4 972.5,486.4 980.5,485.4 988.5,484.4 996.5,484.4 1004.5,484.4 1012.5,483.4 1020.5,488.4 1028.5,487.4" fill="none" stroke="#1e90ff" stroke-width="1" shape-rendering="crispEdges"/>
<rect x="1305" y="45" width="2" height="1" fill="#000" />
<text transform="translate(1310.5,49) scale(0.9,1)" font-size="10" fill="#000" font-weight="normal" text-anchor="start" stroke="#000" stroke-width="0.25" >1.36715</text>
<rect x="1305" y="78" width="2" height="1" fill="#000" />
<text transform="translate(1310.5,82) scale(0.9,1)" font-size="10" fill="#000" font-weight="normal" text-anchor="start" stroke="#000" stroke-width="0.25" >1.35815</text>
<rect x="1305" y="111" width="2" height="1" fill="#000" />
<text transform="translate(1310.5,115) scale(0.9,1)" font-size="10" fill="#000" font-weight="normal" text-anchor="start" stroke="#000" stroke-width="0.25" >1.34915</text>
<rect x="1305" y="144" width="2" height="1" fill="#000" />
<text transform="translate(1310.5,148) scale(0.9,1)" font-size="10" fill="#000" font-weight="normal" text-anchor="start" stroke="#000" stroke-width="0.25" >1.33990</text>
<rect x="1305" y="177" width="2" height="1" fill="#000" />
<text transform="translate(1310.5,181) scale(0.9,1)" font-size="10" fill="#000" font-weight="normal" text-anchor="start" stroke="#000" stroke-width="0.25" >1.33090</text>
<rect x="1305" y="211" width="2" height="1" fill="#000" />
<text transform="translate(1310.5,215) scale(0.9,1)" font-size="10" fill="#000" font-weight="normal" text-anchor="start" stroke="#000" stroke-width="0.25" >1.32190</text>
<rect x="1305" y="244" width="2" height="1" fill="#000" />
<text transform="translate(1310.5,248) scale(0.9,1)" font-size="10" fill="#000" font-weight="normal" text-anchor="start" stroke="#000" stroke-width="0.25" >1.31290</text>
<rect x="1305" y="276" width="2" height="1" fill="#000" />
<text transform="translate(1310.5,280) scale(0.9,1)" font-size="10" fill="#000" font-weight="normal" text-anchor="start" stroke="#000" stroke-width="0.25" >1.30365</text>
<rect x="1305" y="310" width="2" height="1" fill="#000" />
<text transform="translate(1310.5,314) scale(0.9,1)" font-size="10" fill="#000" font-weight="normal" text-anchor="start" stroke="#000" stroke-width="0.25" >1.29465</text>
<rect x="1305" y="343" width="2" height="1" fill="#000" />
<text transform="translate(1310.5,347) scale(0.9,1)" font-size="10" fill="#000" font-weight="normal" text-anchor="start" stroke="#000" stroke-width="0.25" >1.28565</text>
<rect x="1305" y="375" width="2" height="1" fill="#000" />
<text transform="translate(1310.5,379) scale(0.9,1)" font-size="10" fill="#000" font-weight="normal" text-anchor="start" stroke="#000" stroke-width="0.25" >1.27665</text>
<rect x="1306" y="53" width="41" height="11" fill="#000" />
<text transform="translate(1310.5,62.1) scale(0.9,1)" font-size="10" fill="#fff" font-weight="normal" text-anchor="start" stroke="#fff" stroke-width="0.25" >1.36369</text>
<rect x="1305" y="382" width="1" height="1" fill="#000" />
<text transform="translate(1308,391.1) scale(0.9,1)" font-size="10" fill="#000" font-weight="normal" text-anchor="start" stroke="#000" stroke-width="0.25" >0.010474</text>
<rect x="1305" y="427" width="1" height="1" fill="#000" />
<text transform="translate(1308,431.1) scale(0.9,1)" font-size="10" fill="#000" font-weight="normal" text-anchor="start" stroke="#000" stroke-width="0.25" >0.00</text>
<rect x="1305" y="453" width="1" height="1" fill="#000" />
<text transform="translate(1308.3,451.1) scale(0.9,1)" font-size="10" fill="#000" font-weight="normal" text-anchor="start" stroke="#000" stroke-width="0.25" >-0.006218</text>
<rect x="1305" y="458" width="1" height="1" fill="#000" />
<text transform="translate(1307.6,467.1) scale(0.9,1)" font-size="10" fill="#000" font-weight="normal" text-anchor="start" stroke="#000" stroke-width="0.25" >100</text>
<text transform="translate(1307.2,489.1) scale(0.9,1)" font-size="10" fill="#000" font-weight="normal" text-anchor="start" stroke="#000" stroke-width="0.25" >70</text>
<text transform="translate(1307.2,527.1) scale(0.9,1)" font-size="10" fill="#000" font-weight="normal" text-anchor="start" stroke="#000" stroke-width="0.25" >30</text>
<rect x="1305" y="550" width="1" height="1" fill="#000" />
<text transform="translate(1308,548.1) scale(0.9,1)" font-size="10" fill="#000" font-weight="normal" text-anchor="start" stroke="#000" stroke-width="0.25" >0</text>
<path d="M7 41l3.5-3.8 3.5 3.8z" fill="#000"/>
<text transform="translate(19.2,42) scale(0.968,1)" font-size="10" fill="#000" font-weight="normal" text-anchor="start" stroke="#000" stroke-width="0.25" >USDCAD,Daily</text>
<text transform="translate(91.3,42) scale(0.92,1)" font-size="10" fill="#000" font-weight="normal" text-anchor="start" stroke="#000" stroke-width="0.25" >1.36284 1.36378 1.36190 1.36369</text>
<text transform="translate(7.6,393) scale(0.942,1)" font-size="10" fill="#000" font-weight="normal" text-anchor="start" stroke="#000" stroke-width="0.25" >MACD(12,26,9) 0.009205 0.009191</text>
<text transform="translate(7.6,469) scale(0.938,1)" font-size="10" fill="#000" font-weight="normal" text-anchor="start" stroke="#000" stroke-width="0.25" >RSI(14) 68.7069</text>
<rect x="4" y="552" width="1" height="3" fill="#000" />
<text transform="translate(3.1,564) scale(0.94,1)" font-size="10" fill="#000" font-weight="normal" text-anchor="start" stroke="#000" stroke-width="0.25" >31 Jul 2018</text>
<rect x="68" y="552" width="1" height="3" fill="#000" />
<text transform="translate(67.1,564) scale(0.94,1)" font-size="10" fill="#000" font-weight="normal" text-anchor="start" stroke="#000" stroke-width="0.25" >10 Aug 2018</text>
<rect x="132" y="552" width="1" height="3" fill="#000" />
<text transform="translate(131.1,564) scale(0.94,1)" font-size="10" fill="#000" font-weight="normal" text-anchor="start" stroke="#000" stroke-width="0.25" >22 Aug 2018</text>
<rect x="196" y="552" width="1" height="3" fill="#000" />
<text transform="translate(195.1,564) scale(0.94,1)" font-size="10" fill="#000" font-weight="normal" text-anchor="start" stroke="#000" stroke-width="0.25" >3 Sep 2018</text>
<rect x="260" y="552" width="1" height="3" fill="#000" />
<text transform="translate(259.1,564) scale(0.94,1)" font-size="10" fill="#000" font-weight="normal" text-anchor="start" stroke="#000" stroke-width="0.25" >12 Sep 2018</text>
<rect x="324" y="552" width="1" height="3" fill="#000" />
<text transform="translate(323.1,564) scale(0.94,1)" font-size="10" fill="#000" font-weight="normal" text-anchor="start" stroke="#000" stroke-width="0.25" >21 Sep 2018</text>
<rect x="388" y="552" width="1" height="3" fill="#000" />
<text transform="translate(387.1,564) scale(0.94,1)" font-size="10" fill="#000" font-weight="normal" text-anchor="start" stroke="#000" stroke-width="0.25" >1 Oct 2018</text>
<rect x="452" y="552" width="1" height="3" fill="#000" />
<text transform="translate(451.1,564) scale(0.94,1)" font-size="10" fill="#000" font-weight="normal" text-anchor="start" stroke="#000" stroke-width="0.25" >10 Oct 2018</text>
<rect x="516" y="552" width="1" height="3" fill="#000" />
<text transform="translate(515.1,564) scale(0.94,1)" font-size="10" fill="#000" font-weight="normal" text-anchor="start" stroke="#000" stroke-width="0.25" >19 Oct 2018</text>
<rect x="580" y="552" width="1" height="3" fill="#000" />
<text transform="translate(579.1,564) scale(0.94,1)" font-size="10" fill="#000" font-weight="normal" text-anchor="start" stroke="#000" stroke-width="0.25" >29 Oct 2018</text>
<rect x="644" y="552" width="1" height="3" fill="#000" />
<text transform="translate(643.1,564) scale(0.94,1)" font-size="10" fill="#000" font-weight="normal" text-anchor="start" stroke="#000" stroke-width="0.25" >7 Nov 2018</text>
<rect x="708" y="552" width="1" height="3" fill="#000" />
<text transform="translate(707.1,564) scale(0.94,1)" font-size="10" fill="#000" font-weight="normal" text-anchor="start" stroke="#000" stroke-width="0.25" >16 Nov 2018</text>
<rect x="772" y="552" width="1" height="3" fill="#000" />
<text transform="translate(771.1,564) scale(0.94,1)" font-size="10" fill="#000" font-weight="normal" text-anchor="start" stroke="#000" stroke-width="0.25" >26 Nov 2018</text>
<rect x="836" y="552" width="1" height="3" fill="#000" />
<text transform="translate(835.1,564) scale(0.94,1)" font-size="10" fill="#000" font-weight="normal" text-anchor="start" stroke="#000" stroke-width="0.25" >5 Dec 2018</text>
<rect x="900" y="552" width="1" height="3" fill="#000" />
<text transform="translate(899.1,564) scale(0.94,1)" font-size="10" fill="#000" font-weight="normal" text-anchor="start" stroke="#000" stroke-width="0.25" >14 Dec 2018</text>
<rect x="964" y="552" width="1" height="3" fill="#000" />
<text transform="translate(963.1,564) scale(0.94,1)" font-size="10" fill="#000" font-weight="normal" text-anchor="start" stroke="#000" stroke-width="0.25" >24 Dec 2018</text>
<rect x="1028" y="552" width="1" height="3" fill="#000" />
<text transform="translate(1027.1,564) scale(0.94,1)" font-size="10" fill="#000" font-weight="normal" text-anchor="start" stroke="#000" stroke-width="0.25" >2 Jan 2019</text>
<path d="M7 50H59V74H116V114H7z" fill="url(#gb)"/>
<path d="M174 50H226V114H118V74H174z" fill="url(#gb)"/>
<path d="M7.5 50.5H58.5V74.5H115.5V113.5H7.5z" fill="none" stroke="#0000b0" stroke-width="1" stroke-opacity="0.75"/>
<path d="M174.5 50.5H225.5V113.5H118.5V74.5H174.5z" fill="none" stroke="#0000b0" stroke-width="1" stroke-opacity="0.75"/>
<rect x="11" y="73" width="44" height="1" fill="#0808a8" />
<rect x="11" y="74" width="44" height="1" fill="#7878ff" />
<rect x="178" y="73" width="44" height="1" fill="#0808a8" />
<rect x="178" y="74" width="44" height="1" fill="#7878ff" />
<rect x="61.5" y="50.5" width="110" height="21" fill="#fff" stroke="#b4b4b4" stroke-width="1"/>
<rect x="63" y="52" width="18" height="18" fill="url(#gs)" />
<rect x="152" y="52" width="18" height="18" fill="url(#gs)" />
<rect x="82" y="51" width="1" height="20" fill="#b4b4b4" />
<rect x="150" y="51" width="1" height="20" fill="#b4b4b4" />
<path d="M69 59h5.4l-2.7 3.2z" fill="#5a6ec8"/>
<path d="M158.2 62.2h5.4l-2.7-3.2z" fill="#5a6ec8"/>
<text transform="translate(146.8,64.7) scale(1.05,1)" font-size="11.5" fill="#000" font-weight="normal" text-anchor="end"  >0.01</text>
<text transform="translate(19.2,65.8) scale(0.85,1)" font-size="12.8" fill="#fff" font-weight="normal" text-anchor="start"  >SELL</text>
<text transform="translate(187.2,65.8) scale(0.935,1)" font-size="12.8" fill="#fff" font-weight="normal" text-anchor="start"  >BUY</text>
<text transform="translate(27.0,105) scale(1.03,1)" font-size="12" fill="#fff" font-weight="bold" text-anchor="start"  >1.36</text>
<text transform="translate(137.0,105) scale(1.03,1)" font-size="12" fill="#fff" font-weight="bold" text-anchor="start"  >1.36</text>
<g font-size="35" fill="#fff" stroke="url(#gb)" stroke-width="0.5">
<text x="54.8" y="105.4" textLength="35.0" lengthAdjust="spacingAndGlyphs">36</text>
<text x="165.9" y="105.4" textLength="34.2" lengthAdjust="spacingAndGlyphs">39</text>
</g>
<text transform="translate(94.3,89) scale(1.0,1)" font-size="12" fill="#fff" font-weight="bold" text-anchor="start"  >9</text>
<text transform="translate(205.0,89) scale(1.0,1)" font-size="12" fill="#fff" font-weight="bold" text-anchor="start"  >3</text>
<rect x="0" y="575" width="1351" height="22" fill="#f0f0f0" />
<rect x="0" y="594" width="1351" height="1" fill="#ffffff" />
<rect x="1" y="575" width="1350" height="1" fill="#fbfbfb" />
<rect x="1" y="575" width="1" height="18" fill="#f8f8f8" />
<rect x="0" y="574" width="1351" height="1" fill="#000" />
<rect x="0" y="575" width="1" height="18" fill="#696969" />
<rect x="278" y="574" width="102" height="18" fill="#fff" />
<rect x="277" y="574" width="1" height="19" fill="#000" />
<rect x="380" y="574" width="1" height="19" fill="#000" />
<rect x="277" y="592" width="104" height="1" fill="#000" />
<rect x="97" y="577" width="1" height="14" fill="#696969" />
<rect x="189" y="577" width="1" height="14" fill="#696969" />
<rect x="473" y="577" width="1" height="14" fill="#696969" />
<rect x="557" y="577" width="1" height="14" fill="#696969" />
<rect x="661" y="577" width="1" height="14" fill="#696969" />
<rect x="761" y="577" width="1" height="14" fill="#696969" />
<rect x="837" y="577" width="1" height="14" fill="#696969" />
<text x="17.2" y="588.6" font-size="12" fill="#7a7a7a" textLength="67.8" lengthAdjust="spacingAndGlyphs">EURUSD,H4</text>
<text x="108.4" y="588.6" font-size="12" fill="#7a7a7a" textLength="69.5" lengthAdjust="spacingAndGlyphs">AUDUSD,H4</text>
<text x="199.4" y="588.6" font-size="12" fill="#7a7a7a" textLength="66.4" lengthAdjust="spacingAndGlyphs">USDCHF,H4</text>
<text x="391.8" y="588.6" font-size="12" fill="#7a7a7a" textLength="70.2" lengthAdjust="spacingAndGlyphs">USDCNH,H4</text>
<text x="483.5" y="588.6" font-size="12" fill="#7a7a7a" textLength="62.2" lengthAdjust="spacingAndGlyphs">USDJPY,H4</text>
<text x="568" y="588.6" font-size="12" fill="#7a7a7a" textLength="80.7" lengthAdjust="spacingAndGlyphs">XAUUSD,Daily</text>
<text x="672.4" y="588.6" font-size="12" fill="#7a7a7a" textLength="77.3" lengthAdjust="spacingAndGlyphs">GBPUSD,M15</text>
<text x="772.3" y="588.6" font-size="12" fill="#7a7a7a" textLength="53.3" lengthAdjust="spacingAndGlyphs">SP500,H1</text>
<text x="288.5" y="588.6" font-size="12" fill="#000" textLength="80.3" lengthAdjust="spacingAndGlyphs">USDCAD,Daily</text>
<path d="M1319.5 583l3.5-3.2v6.4z" fill="#a0a0a0"/><path d="M1342.5 583l-3.5-3.2v6.4z" fill="#a0a0a0"/>
</svg>
</body></html>
